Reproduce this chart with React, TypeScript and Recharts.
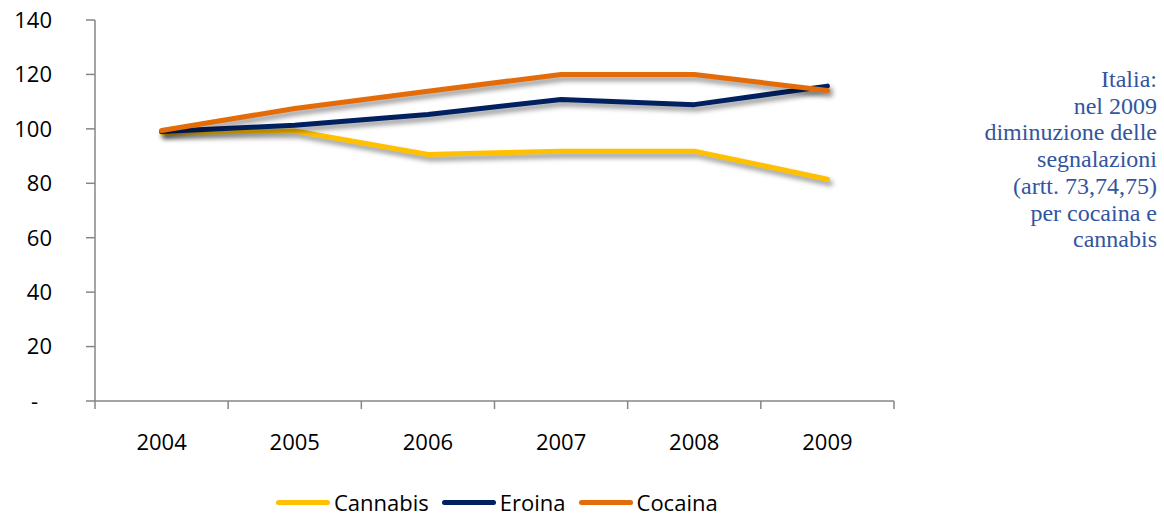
import { LineChart, Line, XAxis, YAxis, Legend } from "recharts";

const years = ["2004", "2005", "2006", "2007", "2008", "2009"];
const cannabis = [98.7, 99.2, 90.6, 91.8, 91.8, 81.5];
const eroina = [99, 101.3, 105.3, 110.8, 108.9, 115.7];
const cocaina = [99.4, 107.5, 113.8, 120, 120, 114.1];
const yTicks = [0, 20, 40, 60, 80, 100, 120, 140];
const noteLines = [
  "Italia:",
  "nel 2009",
  "diminuzione delle",
  "segnalazioni",
  "(artt. 73,74,75)",
  "per cocaina e",
  "cannabis",
];

const series = [
  { key: "Cannabis", color: "#FFC000" },
  { key: "Eroina", color: "#002060" },
  { key: "Cocaina", color: "#E36C09" },
];

const data = years.map((year, i) => ({
  year,
  Cannabis: cannabis[i],
  Eroina: eroina[i],
  Cocaina: cocaina[i],
}));

const W = 1164;
const H = 515;
const MARGIN = { top: 20, right: 270, bottom: 0, left: 0 };
const Y_W = 95;
const BAND_HALF = (W - MARGIN.left - MARGIN.right - Y_W) / years.length / 2;
const FONT = '"Open Sans", sans-serif';
const FONT_SIZE = 22;
const AXIS_COLOR = "#868686";

function XTick({ x, y, payload, index }: any) {
  const half = payload?.offset || BAND_HALF;
  const last = index === years.length - 1;
  return (
    <g>
      <line x1={x - half} x2={x - half} y1={y} y2={y + 8} stroke={AXIS_COLOR} strokeWidth={1.5} />
      {last && <line x1={x + half} x2={x + half} y1={y} y2={y + 8} stroke={AXIS_COLOR} strokeWidth={1.5} />}
      <text x={x} y={y + 41} dy="0.355em" textAnchor="middle" fontFamily={FONT} fontSize={FONT_SIZE} fill="#000">
        {payload.value}
      </text>
    </g>
  );
}

function YTick({ x, y, payload }: any) {
  const zero = payload.value === 0;
  return (
    <text x={zero ? x - 14 : x} y={y} dy="0.355em" textAnchor="end" fontFamily={FONT} fontSize={FONT_SIZE} fill="#000">
      {zero ? "-" : payload.value}
    </text>
  );
}

function LegendContent({ payload }: any) {
  const order = series.map((s) => s.key);
  const items = [...(payload || [])].sort((a: any, b: any) => order.indexOf(a.value) - order.indexOf(b.value));
  return (
    <div
      style={{
        display: "flex",
        alignItems: "center",
        height: 22,
        paddingLeft: 276,
        fontFamily: FONT,
        fontSize: FONT_SIZE,
        lineHeight: "22px",
        color: "#000",
      }}
    >
      {items.map((p: any) => (
        <div key={p.value} style={{ display: "flex", alignItems: "center", marginRight: 13 }}>
          <span style={{ display: "inline-block", width: 54, height: 5, borderRadius: 3, background: p.color, marginRight: 4 }} />
          <span>{p.value}</span>
        </div>
      ))}
    </div>
  );
}

export default function App() {
  return (
    <div style={{ position: "absolute", left: 0, top: 0, width: W, height: H, background: "#fff" }}>
      <style>{`.recharts-line-curve { filter: drop-shadow(3px 4px 2.5px rgba(0,0,0,0.42)); }`}</style>
      <LineChart width={W} height={H} data={data} margin={MARGIN}>
        <XAxis
          dataKey="year"
          scale="band"
          height={114}
          tickSize={0}
          tickMargin={0}
          tickLine={false}
          axisLine={{ stroke: AXIS_COLOR, strokeWidth: 1.5 }}
          tick={<XTick />}
          interval={0}
        />
        <YAxis
          width={Y_W}
          domain={[0, 140]}
          ticks={yTicks}
          interval={0}
          tickSize={9}
          tickMargin={34}
          tickLine={{ stroke: AXIS_COLOR, strokeWidth: 1.5 }}
          axisLine={{ stroke: AXIS_COLOR, strokeWidth: 1.5 }}
          tick={<YTick />}
        />
        <Legend
          layout="horizontal"
          verticalAlign="middle"
          align="center"
          content={<LegendContent />}
          wrapperStyle={{ top: 491, left: 0, width: W, height: 22 }}
        />
        {series.map((s) => (
          <Line
            key={s.key}
            type="linear"
            dataKey={s.key}
            stroke={s.color}
            strokeWidth={5}
            strokeLinecap="round"
            strokeLinejoin="round"
            dot={false}
            activeDot={false}
            isAnimationActive={false}
          />
        ))}
      </LineChart>
      <div
        style={{
          position: "absolute",
          right: 7,
          top: 66,
          textAlign: "right",
          fontFamily: '"Liberation Serif", "Times New Roman", serif',
          fontSize: 24,
          lineHeight: "26.7px",
          color: "#3355a0",
        }}
      >
        {noteLines.map((l) => (
          <div key={l}>{l}</div>
        ))}
      </div>
    </div>
  );
}
